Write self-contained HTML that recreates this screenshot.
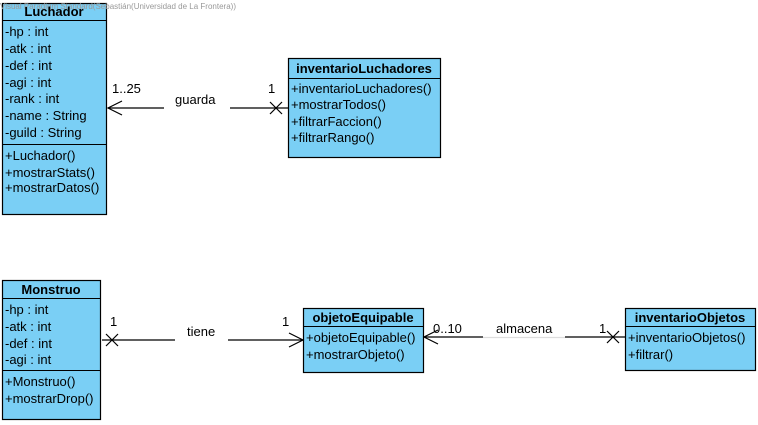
<!DOCTYPE html>
<html><head><style>body{margin:0;background:#fff}svg{display:block}</style></head><body>
<svg width="758" height="425" xmlns="http://www.w3.org/2000/svg" font-family="Liberation Sans, Arial, sans-serif" font-size="13">
<g fill="#7acff5" stroke="#000" stroke-width="1.2">
<rect x="2.5" y="3.5" width="104" height="211"/>
<rect x="288.5" y="58.5" width="152" height="99"/>
<rect x="2.5" y="280.5" width="98" height="139"/>
<rect x="303.5" y="308.5" width="120" height="64"/>
<rect x="625.5" y="308.5" width="130" height="62"/>
</g>
<text x="0" y="9" font-size="8" fill="#999">Visual Paradigm Standard(Sebastián(Universidad de La Frontera))</text>
<g stroke="#000" stroke-width="1">
<line x1="2" y1="20.5" x2="106" y2="20.5"/><line x1="2" y1="144.5" x2="106" y2="144.5"/>
<line x1="288" y1="78.5" x2="440" y2="78.5"/>
<line x1="2" y1="298.5" x2="100" y2="298.5"/><line x1="2" y1="370.5" x2="100" y2="370.5"/>
<line x1="303" y1="326.5" x2="423" y2="326.5"/>
<line x1="625" y1="326.5" x2="755" y2="326.5"/>
</g>
<g font-weight="bold" text-anchor="middle">
<text x="54" y="16">Luchador</text>
<text x="364" y="73">inventarioLuchadores</text>
<text x="51" y="294">Monstruo</text>
<text x="363" y="322">objetoEquipable</text>
<text x="690" y="322">inventarioObjetos</text>
</g>
<g>
<text x="5" y="36">-hp : int</text><text x="5" y="53">-atk : int</text><text x="5" y="70">-def : int</text><text x="5" y="87">-agi : int</text><text x="5" y="103">-rank : int</text><text x="5" y="120">-name : String</text><text x="5" y="137">-guild : String</text>
<text x="5" y="160">+Luchador()</text><text x="5" y="177">+mostrarStats()</text><text x="5" y="192">+mostrarDatos()</text>
<text x="291" y="93">+inventarioLuchadores()</text><text x="291" y="109">+mostrarTodos()</text><text x="291" y="126">+filtrarFaccion()</text><text x="291" y="142">+filtrarRango()</text>
<text x="5" y="314">-hp : int</text><text x="5" y="331">-atk : int</text><text x="5" y="348">-def : int</text><text x="5" y="364">-agi : int</text>
<text x="5" y="386">+Monstruo()</text><text x="5" y="403">+mostrarDrop()</text>
<text x="306" y="342">+objetoEquipable()</text><text x="306" y="359">+mostrarObjeto()</text>
<text x="628" y="342">+inventarioObjetos()</text><text x="628" y="359">+filtrar()</text>
</g>
<g stroke="#000" stroke-width="1.2" fill="none">
<line x1="108" y1="108" x2="164" y2="108"/><line x1="230" y1="108" x2="288" y2="108"/>
<polyline points="122,101 108,108 122,115"/>
<line x1="270" y1="102" x2="282" y2="114"/><line x1="282" y1="102" x2="270" y2="114"/>
<line x1="102" y1="340" x2="175" y2="340"/><line x1="228" y1="340" x2="303" y2="340"/>
<polyline points="289,333 303,340 289,347"/>
<line x1="106" y1="334" x2="118" y2="346"/><line x1="118" y1="334" x2="106" y2="346"/>
<line x1="424" y1="337" x2="483" y2="337"/><line x1="565" y1="337" x2="625" y2="337"/>
<line x1="483" y1="337.5" x2="565" y2="337.5" stroke="#ddd"/>
<polyline points="438,330 424,337 438,344"/>
<line x1="607" y1="331" x2="619" y2="343"/><line x1="619" y1="331" x2="607" y2="343"/>
</g>
<g>
<text x="112" y="93">1..25</text><text x="268" y="93">1</text><text x="175" y="104">guarda</text>
<text x="110" y="326">1</text><text x="282" y="326">1</text><text x="187" y="336">tiene</text>
<text x="433" y="333">0..10</text><text x="599" y="333">1</text><text x="496" y="333">almacena</text>
</g>
</svg>
</body></html>
